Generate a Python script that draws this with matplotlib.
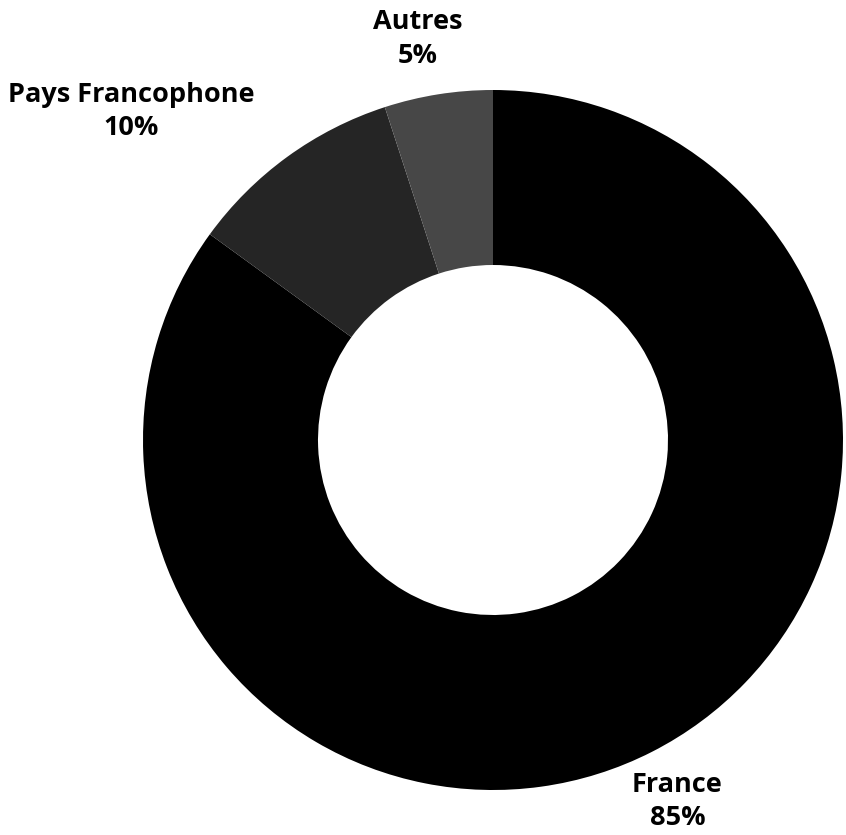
import matplotlib as mpl
mpl.rcParams['font.family'] = ['Open Sans', 'DejaVu Sans']
import matplotlib.pyplot as plt
from matplotlib.transforms import offset_copy

# Data
labels = ['France', 'Pays Francophone', 'Autres']
values = [85, 10, 5]
colors = ['#000000', '#252525', '#474747']
label_ha = ['center', 'right', 'center']
label_dx = [0, 0, -12]  # pixel nudges for the labels

fig = plt.figure(figsize=(8.46, 8.35), dpi=100)
# center at (493, 440) px from top-left, radius 350 px
ax = fig.add_axes([(493 - 350) / 846, (835 - 440 - 350) / 835, 700 / 846, 700 / 835])

wedges, texts = ax.pie(
    values, colors=colors, startangle=90, counterclock=False,
    radius=1.0, wedgeprops=dict(width=0.5, linewidth=0),
    labels=['{}\n{}%'.format(l, v) for l, v in zip(labels, values)],
    labeldistance=1.16,
    textprops=dict(fontsize=19.5, fontweight='bold', multialignment='center',
                   linespacing=1.37))
for t, ha, dx in zip(texts, label_ha, label_dx):
    t.set_ha(ha)
    t.set_transform(offset_copy(ax.transData, fig=fig, x=dx, y=0, units='dots'))

ax.set_xlim(-1, 1)
ax.set_ylim(-1, 1)
ax.set_aspect('equal')
ax.axis('off')

fig.savefig('out.png', dpi=100)
